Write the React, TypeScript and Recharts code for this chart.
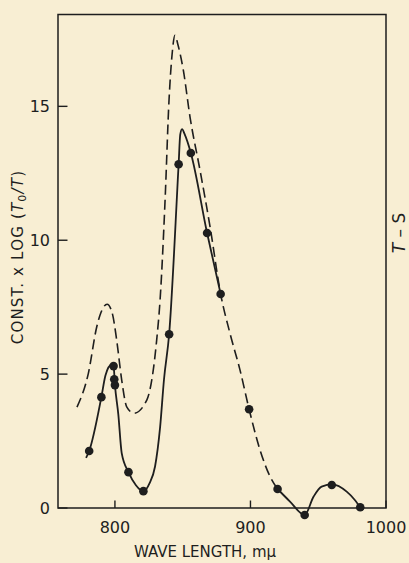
import React from "react"
import {
  ComposedChart,
  Line,
  Scatter,
  XAxis,
  YAxis,
  ReferenceArea,
  ReferenceLine,
} from "recharts"

// axis ticks
const xTicks = [800, 900, 1000]
const yTicks = [0, 5, 10, 15]

// measured points (filled dots)
const measuredWave = [781, 790, 799, 799.5, 800, 810, 821, 840, 847, 856, 868, 878, 899, 920, 940, 960, 981]
const measuredValue = [2.13, 4.14, 5.3, 4.81, 4.59, 1.34, 0.63, 6.49, 12.84, 13.26, 10.27, 7.99, 3.69, 0.71, -0.26, 0.86, 0.03]

// solid curve, first part
const solidWaveA = [778.7, 781, 790, 793, 797.5, 799, 800, 802.5, 805, 810, 815.5, 821, 825.5, 829.6, 833.3, 836.2, 840, 847, 848.2, 849.5, 851.5, 856, 868, 878]
const solidValueA = [1.87, 2.13, 4.14, 4.95, 5.35, 5.3, 4.6, 3.5, 2.05, 1.34, 0.85, 0.62, 0.92, 1.55, 3.0, 4.8, 6.49, 12.84, 13.95, 14.15, 13.95, 13.26, 10.27, 7.99]

// solid curve, long wave end
const solidWaveB = [920, 929, 940, 946.5, 952.5, 960.4, 971, 977, 981]
const solidValueB = [0.71, 0.25, -0.26, 0.42, 0.8, 0.88, 0.61, 0.3, 0.03]

// dashed curve
const dashedWave = [772, 780.4, 786.6, 789.7, 794.2, 797.9, 801.3, 805, 808.7, 814.1, 823.5, 830.8, 833.3, 837, 839.9, 842.1, 844.3, 846.6, 850.5, 855.4, 862.8, 870.2, 878, 884.9, 892.3, 899, 907.1, 914.5, 920]
const dashedValue = [3.77, 5.03, 6.77, 7.3, 7.61, 7.3, 6.27, 4.78, 3.78, 3.54, 4.03, 6.27, 7.76, 11.49, 15.22, 16.9, 17.65, 17.28, 16.34, 14.6, 12.61, 10.5, 7.99, 6.52, 5.15, 3.69, 2.16, 1.17, 0.71]

const X_MIN = 758
const X_MAX = 1000
const Y_TOP = 18.43

const ink = "#1e1e1e"
const paper = "#f8eed3"
const font = "'DejaVu Sans', sans-serif"

const zip = (xs: number[], ys: number[]) => xs.map((x, i) => ({ x, y: ys[i] }))

const measured = zip(measuredWave, measuredValue)
const solidA = zip(solidWaveA, solidValueA)
const solidB = zip(solidWaveB, solidValueB)
const dashed = zip(dashedWave, dashedValue)

function Dot(props: any) {
  return <circle cx={props.cx} cy={props.cy} r={4.3} fill={ink} />
}

function YTitle() {
  return (
    <text
      x={18}
      y={257}
      transform="rotate(-90, 18, 257)"
      textAnchor="middle"
      dominantBaseline="central"
      fontSize={15}
      letterSpacing={1.2}
      fontFamily={font}
      fill={ink}
    >
      CONST. x LOG (<tspan fontStyle="italic">T</tspan>
      <tspan fontSize={11} dy={4}>0</tspan>
      <tspan dy={-4} fontStyle="italic">/T</tspan>)
    </text>
  )
}

function XTitle() {
  return (
    <text x={205} y={557} textAnchor="middle" fontSize={15} fontFamily={font} fill={ink}>
      WAVE LENGTH, mμ
    </text>
  )
}

export default function App() {
  return (
    <div
      style={{
        position: "absolute",
        left: 0,
        top: 0,
        width: 409,
        height: 563,
        background: paper,
        overflow: "hidden",
      }}
    >
      <ComposedChart
        width={409}
        height={563}
        margin={{ top: 14.5, right: 23, bottom: 1.6, left: 8 }}
      >
        <XAxis
          type="number"
          dataKey="x"
          domain={[X_MIN, X_MAX]}
          ticks={xTicks}
          height={40}
          axisLine={false}
          tickLine={false}
          tickSize={0}
          tickMargin={0}
          tick={{ fontSize: 16, fill: ink, fontFamily: font }}
          label={<XTitle />}
        />
        <YAxis
          type="number"
          dataKey="y"
          domain={[-0.5, Y_TOP]}
          ticks={yTicks}
          width={50}
          axisLine={false}
          tickLine={false}
          tickSize={0}
          tickMargin={8}
          tick={{ fontSize: 16, fill: ink, fontFamily: font }}
          label={<YTitle />}
        />
        <ReferenceArea
          x1={X_MIN}
          x2={X_MAX}
          y1={0}
          y2={Y_TOP}
          fill="none"
          stroke={ink}
          strokeWidth={1.5}
        />
        {xTicks.map((t) => (
          <ReferenceLine
            key={"xt" + t}
            segment={[{ x: t, y: 0 }, { x: t, y: 0.28 }]}
            stroke={ink}
            strokeWidth={1.4}
          />
        ))}
        {yTicks.map((t) => (
          <ReferenceLine
            key={"yt" + t}
            segment={[{ x: X_MIN, y: t }, { x: X_MIN + 7, y: t }]}
            stroke={ink}
            strokeWidth={1.4}
          />
        ))}
        <Line
          data={dashed}
          dataKey="y"
          type="monotone"
          stroke={ink}
          strokeWidth={1.6}
          strokeDasharray="10 5"
          dot={false}
          activeDot={false}
          isAnimationActive={false}
        />
        <Line
          data={solidA}
          dataKey="y"
          type="monotone"
          stroke={ink}
          strokeWidth={1.8}
          dot={false}
          activeDot={false}
          isAnimationActive={false}
        />
        <Line
          data={solidB}
          dataKey="y"
          type="monotone"
          stroke={ink}
          strokeWidth={1.8}
          dot={false}
          activeDot={false}
          isAnimationActive={false}
        />
        <Scatter data={measured} dataKey="y" shape={<Dot />} isAnimationActive={false} />
      </ComposedChart>
      <div
        style={{
          position: "absolute",
          left: 399,
          top: 233,
          transform: "translate(-50%, -50%) rotate(-90deg)",
          fontSize: 17,
          lineHeight: 1,
          fontFamily: font,
          color: ink,
          whiteSpace: "nowrap",
        }}
      >
        <i>T</i> – S
      </div>
    </div>
  )
}
